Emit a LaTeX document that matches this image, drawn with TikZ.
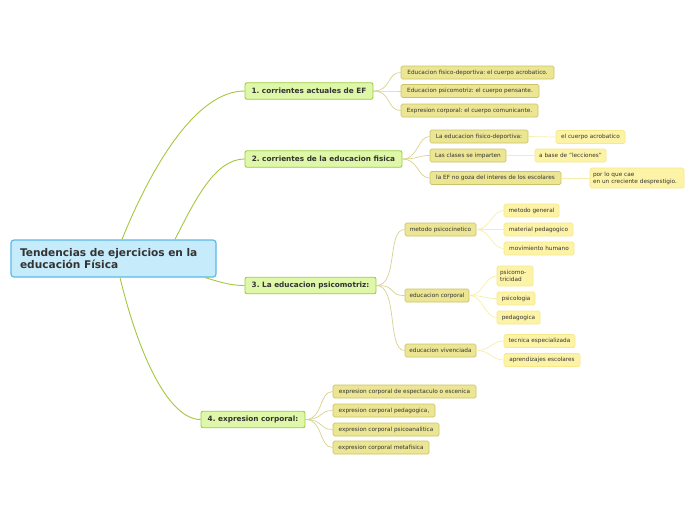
\documentclass[tikz,border=0pt]{standalone}
\usepackage{fontspec}
\setmainfont{DejaVu Sans}
\frenchspacing
\begin{document}
\begin{tikzpicture}[x=1pt,y=-1pt,
  rootbox/.style={draw=rootline,fill=rootfill,line width=1.2pt,rounded corners=3pt,
    font=\fontsize{10.6}{12.5}\selectfont\bfseries,text=textcol,align=left,inner xsep=9pt,inner ysep=0pt,
    minimum width=205pt,minimum height=37pt,text width=187pt},
  mainbox/.style={draw=mainline,fill=mainfill,line width=0.9pt,rounded corners=2pt,
    font=\fontsize{7.3}{8.5}\selectfont\bfseries,text=textcol,inner sep=0pt,minimum height=16.5pt},
  subbox/.style={draw=subline,fill=subfill,line width=0.7pt,rounded corners=1.5pt,
    font=\fontsize{5.75}{6.9}\selectfont,text=textcol,inner sep=0pt,minimum height=13pt},
  leafbox/.style={draw=leafline,fill=leaffill,line width=0.7pt,rounded corners=1.5pt,
    font=\fontsize{5.75}{6.9}\selectfont,text=textcol,inner sep=0pt,minimum height=13pt,align=left},
  rootlink/.style={draw=rootlinkcol,line width=0.9pt},
  sublink/.style={draw=sublinkcol,line width=0.7pt},
  leaflink/.style={draw=leaflinkcol,line width=0.7pt}]
\definecolor{rootline}{HTML}{5CB9EA}
\definecolor{rootfill}{HTML}{C6ECFC}
\definecolor{mainline}{HTML}{9CCB3C}
\definecolor{mainfill}{HTML}{DEF7A8}
\definecolor{subline}{HTML}{CBC466}
\definecolor{subfill}{HTML}{EBE594}
\definecolor{leafline}{HTML}{F5E98C}
\definecolor{leaffill}{HTML}{FDF3A6}
\definecolor{textcol}{HTML}{333333}
\definecolor{rootlinkcol}{HTML}{A6C640}
\definecolor{sublinkcol}{HTML}{D6D290}
\definecolor{leaflinkcol}{HTML}{F8EDA8}
\useasboundingbox (0,0) rectangle (696,520);

% root
\node[rootbox] (root) at (113.5,258.5) {Tendencias de ejercicios en la\\educación Física};

% main
\node[mainbox,minimum width=128pt] (m1) at (309,91) {1. corrientes actuales de EF};
\node[mainbox,minimum width=157pt] (m2) at (323.5,159) {2. corrientes de la educacion fisica};
\node[mainbox,minimum width=131pt] (m3) at (310.5,285.5) {3. La educacion psicomotriz:};
\node[mainbox,minimum width=104pt] (m4) at (253,419.5) {4. expresion corporal:};

% root links
\draw[rootlink] ([xshift=8.5pt]root.north) .. controls (150,170) and (195,91) .. (m1.west);
\draw[rootlink] ([xshift=61.5pt]root.north) .. controls (195,200) and (215,159) .. (m2.west);
\draw[rootlink] ([xshift=91.5pt]root.south) .. controls (220,282) and (230,285.5) .. (m3.west);
\draw[rootlink] ([xshift=6.5pt]root.south) .. controls (140,360) and (170,419.5) .. (m4.west);

% subs of 1
\node[subbox,minimum width=153pt] (s11) at (477.5,72.5) {Educacion fisico-deportiva: el cuerpo acrobatico.};
\node[subbox,minimum width=138pt] (s12) at (470,91) {Educacion psicomotriz: el cuerpo pensante.};
\node[subbox,minimum width=137pt] (s13) at (469.5,110.5) {Expresion corporal: el cuerpo comunicante.};
\foreach \s in {s11,s12,s13}
  \draw[sublink] (m1.east) .. controls +(18,0) and +(-14,0) .. (\s.west);

% subs of 2
\node[subbox,minimum width=98pt] (s21) at (479,136.5) {La educacion fisico-deportiva:};
\node[subbox,minimum width=76pt] (s22) at (468,155.5) {Las clases se imparten};
\node[subbox,minimum width=131pt] (s23) at (495.5,178) {la EF no goza del interes de los escolares};
\foreach \s in {s21,s22,s23}
  \draw[sublink] (m2.east) .. controls +(16,0) and +(-12,0) .. (\s.west);

\node[leafbox,minimum width=69pt] (l21) at (590.5,137) {el cuerpo acrobatico};
\node[leafbox,minimum width=71pt] (l22) at (570.5,155.5) {a base de "lecciones"};
\node[leafbox,minimum width=94pt,minimum height=20pt,text width=88pt] (l23) at (637,178) {por lo que cae\\en un creciente desprestigio.};
\draw[leaflink] (s21.east) -- (l21.west);
\draw[leaflink] (s22.east) -- (l22.west);
\draw[leaflink] (s23.east) -- (l23.west);

% subs of 3
\node[subbox,minimum width=71pt] (s31) at (440.5,229.5) {metodo psicocinetico};
\node[subbox,minimum width=64pt] (s32) at (437,295.5) {educacion corporal};
\node[subbox,minimum width=71pt] (s33) at (440.5,350.5) {educacion vivenciada};
\foreach \s in {s31,s32,s33}
  \draw[sublink] (m3.east) .. controls +(22,0) and +(-18,0) .. (\s.west);

\node[leafbox,minimum width=55pt] (l311) at (531.5,210.5) {metodo general};
\node[leafbox,minimum width=69pt] (l312) at (538.5,229.5) {material pedagogico};
\node[leafbox,minimum width=70pt] (l313) at (539,248.5) {movimiento humano};
\foreach \s in {l311,l312,l313}
  \draw[leaflink] (s31.east) .. controls +(14,0) and +(-12,0) .. (\s.west);

\node[leafbox,minimum width=36pt,minimum height=20pt,text width=30pt] (l321) at (515,276) {psicomo-\\tricidad};
\node[leafbox,minimum width=38pt] (l322) at (516,298.5) {psicologia};
\node[leafbox,minimum width=43pt] (l323) at (518.5,317.5) {pedagogica};
\foreach \s in {l321,l322,l323}
  \draw[leaflink] (s32.east) .. controls +(14,0) and +(-12,0) .. (\s.west);

\node[leafbox,minimum width=71pt] (l331) at (539.5,341) {tecnica especializada};
\node[leafbox,minimum width=76pt] (l332) at (542,360) {aprendizajes escolares};
\foreach \s in {l331,l332}
  \draw[leaflink] (s33.east) .. controls +(14,0) and +(-12,0) .. (\s.west);

% subs of 4
\node[subbox,minimum width=143pt] (s41) at (404.5,391.5) {expresion corporal de espectaculo o escenica};
\node[subbox,minimum width=102pt] (s42) at (384,410.5) {expresion corporal pedagogica,};
\node[subbox,minimum width=106pt] (s43) at (386,429.5) {expresion corporal psicoanalitica};
\node[subbox,minimum width=96pt] (s44) at (381,447.5) {expresion corporal metafisica};
\foreach \s in {s41,s42,s43,s44}
  \draw[sublink] (m4.east) .. controls +(18,0) and +(-14,0) .. (\s.west);
\end{tikzpicture}
\end{document}
